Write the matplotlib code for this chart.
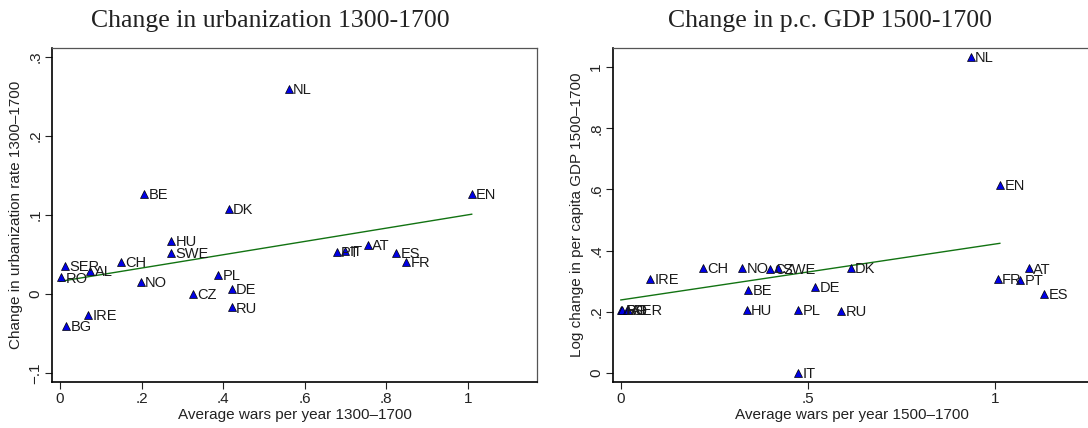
import matplotlib
matplotlib.use("Agg")
import matplotlib.pyplot as plt
from matplotlib.ticker import FixedLocator, FuncFormatter

plt.rcParams['font.family'] = ['Liberation Sans', 'DejaVu Sans']

# Panel 1: change in urbanization 1300-1700
countries_u = ["SER", "RO", "AL", "CH", "HU", "SWE", "NO", "PL", "CZ", "DE", "RU",
               "IRE", "BG", "BE", "DK", "NL", "EN", "PT", "IT", "AT", "ES", "FR"]
wars_u = [0.012, 0.003, 0.074, 0.149, 0.273, 0.273, 0.198, 0.387, 0.325, 0.421, 0.421,
          0.068, 0.015, 0.206, 0.413, 0.560, 1.009, 0.678, 0.698, 0.754, 0.823, 0.848]
urban = [0.035, 0.021, 0.029, 0.041, 0.067, 0.052, 0.015, 0.024, 0.000, 0.006, -0.017,
         -0.026, -0.041, 0.127, 0.108, 0.260, 0.127, 0.053, 0.054, 0.062, 0.052, 0.041]
fit_u_x = [0.0, 1.009]
fit_u_y = [0.016, 0.101]
yticks_u = [-0.1, 0, 0.1, 0.2, 0.3]
xticks_u = [0, 0.2, 0.4, 0.6, 0.8, 1]

# Panel 2: change in per capita GDP 1500-1700
countries_g = ["RO", "BG", "AL", "SER", "IRE", "CH", "NO", "CZ", "SWE", "BE", "HU",
               "PL", "IT", "DE", "DK", "RU", "NL", "EN", "FR", "PT", "AT", "ES"]
wars_g = [0.0, 0.004, 0.016, 0.020, 0.079, 0.220, 0.324, 0.398, 0.421, 0.341, 0.336,
          0.474, 0.474, 0.520, 0.614, 0.588, 0.935, 1.013, 1.007, 1.067, 1.091, 1.132]
gdp = [0.205, 0.205, 0.205, 0.205, 0.309, 0.344, 0.344, 0.341, 0.342, 0.271, 0.206,
       0.206, 0.0, 0.282, 0.345, 0.204, 1.034, 0.614, 0.307, 0.304, 0.342, 0.258]
fit_g_x = [0.0, 1.013]
fit_g_y = [0.239, 0.424]
yticks_g = [0, 0.2, 0.4, 0.6, 0.8, 1]
xticks_g = [0, 0.5, 1]

W, H = 1088, 428


def stata_fmt(v, pos):
    s = f"{v:g}"
    if s.startswith("0.") :
        s = s[1:]
    elif s.startswith("-0."):
        s = "\u2212" + s[2:]
    return s


def panel(ax, x, y, names, fx, fy, xt, yt, xlabel, ylabel):
    ax.plot(fx, fy, color='#127312', lw=1.0, zorder=2)
    ax.plot(x, y, ls='none', marker='^', ms=5.5, mfc='#0000e6', mec='black',
            mew=0.5, zorder=3)
    for xi, yi, name in zip(x, y, names):
        ax.annotate(name, (xi, yi), xytext=(3.2, -0.8), textcoords='offset points',
                    ha='left', va='center', fontsize=10.5, color='#1a1a1a', zorder=4)
    ax.xaxis.set_major_locator(FixedLocator(xt))
    ax.yaxis.set_major_locator(FixedLocator(yt))
    ax.xaxis.set_major_formatter(FuncFormatter(stata_fmt))
    ax.yaxis.set_major_formatter(FuncFormatter(stata_fmt))
    ax.tick_params(axis='both', direction='out', length=5, width=0.8,
                   labelsize=11, pad=2, colors='#222222')
    ax.tick_params(axis='y', labelrotation=90)
    for lab in ax.get_yticklabels():
        lab.set_va('center')
    ax.set_xlabel(xlabel, fontsize=11, labelpad=2, color='#222222')
    ax.set_ylabel(ylabel, fontsize=11, labelpad=4, color='#222222')
    ax.spines['left'].set_linewidth(1.2)
    ax.spines['bottom'].set_linewidth(1.2)
    ax.spines['left'].set_color('black')
    ax.spines['bottom'].set_color('black')
    ax.spines['top'].set_linewidth(0.9)
    ax.spines['right'].set_linewidth(0.9)
    ax.spines['top'].set_color('#555555')
    ax.spines['right'].set_color('#555555')


fig = plt.figure(figsize=(W / 100, H / 100), dpi=100)

ax1 = fig.add_axes([52 / W, (H - 382) / H, (537 - 52) / W, (382 - 48) / H])
panel(ax1, wars_u, urban, countries_u, fit_u_x, fit_u_y, xticks_u, yticks_u,
      "Average wars per year 1300\u20131700", "Change in urbanization rate 1300\u20131700")
ax1.set_xlim(-0.0196, 1.169)
ax1.set_ylim(-0.1114, 0.3114)

ax2 = fig.add_axes([613 / W, (H - 382) / H, (1090 - 613) / W, (382 - 48) / H])
panel(ax2, wars_g, gdp, countries_g, fit_g_x, fit_g_y, xticks_g, yticks_g,
      "Average wars per year 1500\u20131700", "Log change in per capita GDP 1500\u20131700")
ax2.set_xlim(-0.021, 1.254)
ax2.set_ylim(-0.029, 1.062)
ax2.spines['right'].set_visible(False)

title_font = ['Liberation Serif', 'DejaVu Serif']
fig.text(91 / W, 1 - 26.5 / H, "Change in urbanization 1300-1700", family=title_font,
         fontsize=18.5, ha='left', va='baseline', color='#222222')
fig.text(668 / W, 1 - 26.5 / H, "Change in p.c. GDP 1500-1700", family=title_font,
         fontsize=18.5, ha='left', va='baseline', color='#222222')

fig.savefig("out.png", dpi=100)
